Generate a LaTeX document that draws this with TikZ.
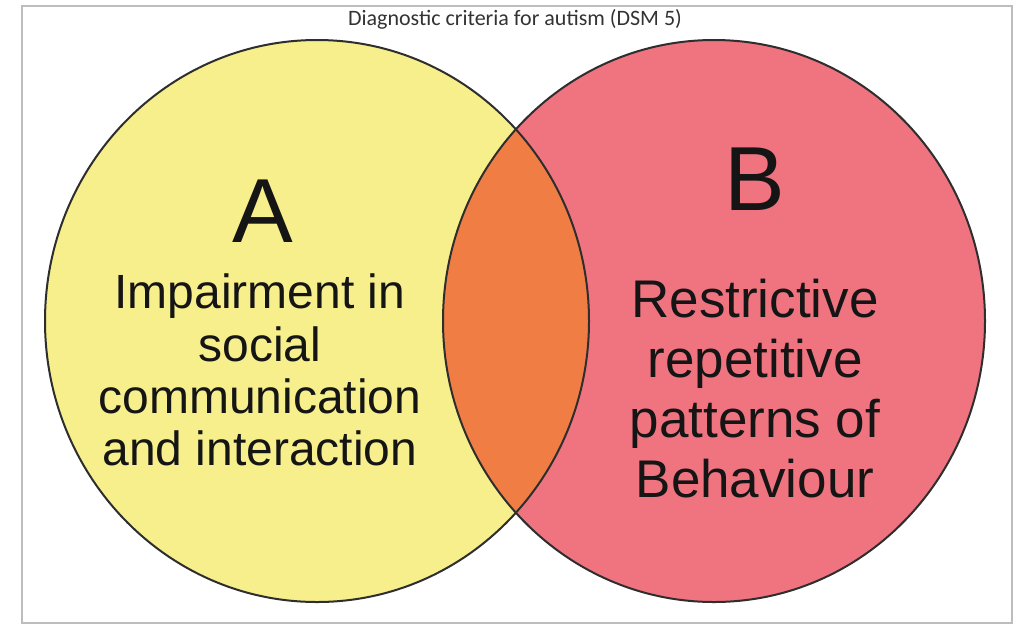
\documentclass[tikz,border=0pt]{standalone}
\usepackage{fontspec}
\setmainfont{Liberation Sans}
\newfontfamily\titlefont{Carlito}
\definecolor{circA}{HTML}{F7EF8C}
\definecolor{circB}{HTML}{EF7480}
\definecolor{lens}{HTML}{F07E44}
\definecolor{edge}{HTML}{2E2E2E}
\definecolor{frame}{HTML}{BDBDBD}
\definecolor{ink}{HTML}{151515}
\tikzset{
  bigletter/.style={anchor=base, inner sep=0pt, text=ink, font=\fontsize{91}{91}\selectfont},
  linea/.style={anchor=base, inner sep=0pt, text=ink, font=\fontsize{48}{48}\selectfont},
  lineb/.style={anchor=base, inner sep=0pt, text=ink, font=\fontsize{53}{53}\selectfont},
  outline/.style={draw=edge, line width=2pt},
}
\begin{document}
\begin{tikzpicture}[x=1pt,y=-1pt]
\useasboundingbox (0,0) rectangle (1015,625);
\fill[white] (0,0) rectangle (1015,625);
\draw[frame, line width=2pt] (22,6) rectangle (1012,623);
% circles
\fill[circA] (317,321) ellipse [x radius=272pt, y radius=281pt];
\fill[circB] (714,321) ellipse [x radius=271pt, y radius=281pt];
\begin{scope}
  \clip (317,321) ellipse [x radius=272pt, y radius=281pt];
  \fill[lens] (714,321) ellipse [x radius=271pt, y radius=281pt];
\end{scope}
\draw[outline] (317,321) ellipse [x radius=272pt, y radius=281pt];
\draw[outline] (714,321) ellipse [x radius=271pt, y radius=281pt];
% title
\node[anchor=base, inner sep=0pt, text=black!80, font=\titlefont\fontsize{22}{22}\selectfont] (title) at (515,25) {Diagnostic criteria for autism (DSM 5)};
% A
\node[bigletter] (A) at (263,242) {A};
\node[linea] (a1) at (260,308) {Impairment in};
\node[linea] (a2) at (260,361) {social};
\node[linea] (a3) at (260,413) {communication};
\node[linea] (a4) at (260,465) {and interaction};
% B
\node[bigletter] (B) at (755,210) {B};
\node[lineb] (b1) at (755,317) {Restrictive};
\node[lineb] (b2) at (755,377) {repetitive};
\node[lineb] (b3) at (755,437) {patterns of};
\node[lineb] (b4) at (755,497) {Behaviour};
\end{tikzpicture}
\end{document}
